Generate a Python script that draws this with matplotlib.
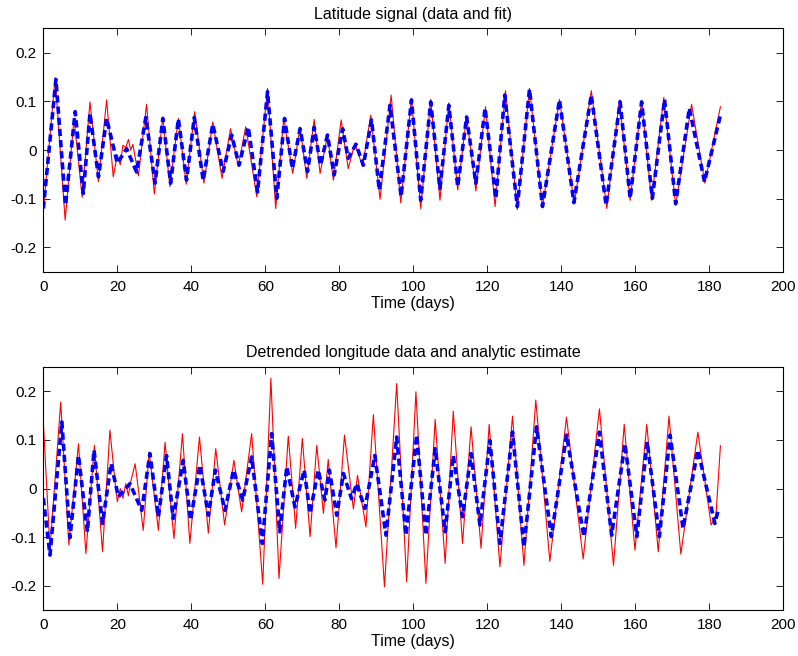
import matplotlib as mpl
mpl.use('Agg')
import matplotlib.pyplot as plt

plt.rcParams['font.family'] = ['Liberation Sans', 'DejaVu Sans']

# latitude: data (red) extrema, days / value
lat_t = [0.0, 3.2, 5.9, 8.3, 10.5, 12.6, 14.9, 17.1, 18.9, 20.0, 20.8, 21.5, 22.3, 23.0, 23.6, 24.2,
         25.7, 27.9, 30.0, 32.3, 34.2, 36.5, 38.6, 40.9, 43.4, 45.8, 48.3, 50.6, 52.7, 54.7, 57.7,
         60.6, 62.8, 65.0, 67.4, 69.4, 71.2, 73.2, 74.8, 76.8, 78.4, 80.5, 82.4, 84.2, 86.3, 88.5,
         91.0, 94.0, 96.6, 99.5, 102.0, 104.7, 107.2, 109.6, 112.0, 114.4, 116.9, 119.5, 122.1,
         124.9, 128.1, 131.4, 134.9, 139.5, 143.5, 148.1, 152.3, 155.7, 158.6, 161.7, 164.4, 167.7,
         170.9, 175.2, 178.8, 183.0]
lat_data = [-0.125, 0.149, -0.144, 0.065, -0.097, 0.099, -0.065, 0.103, -0.055, -0.010, -0.030, 0.010,
            0.005, 0.022, 0.000, 0.012, -0.053, 0.094, -0.090, 0.068, -0.075, 0.065, -0.070, 0.079,
            -0.068, 0.058, -0.058, 0.044, -0.033, 0.048, -0.096, 0.127, -0.120, 0.065, -0.048, 0.047,
            -0.058, 0.063, -0.048, 0.031, -0.062, 0.062, -0.038, 0.014, -0.034, 0.072, -0.101, 0.113,
            -0.108, 0.106, -0.120, 0.104, -0.103, 0.097, -0.082, 0.070, -0.084, 0.089, -0.116, 0.122,
            -0.122, 0.127, -0.116, 0.104, -0.110, 0.122, -0.120, 0.103, -0.103, 0.101, -0.103, 0.108,
            -0.113, 0.094, -0.068, 0.089]

# latitude fit (blue dashed)
lat_fit_t = [0.0, 3.4, 6.0, 8.6, 10.8, 12.6, 14.9, 17.1, 20.0, 22.5, 25.2, 27.7, 30.2, 32.3, 34.4,
             36.5, 38.7, 40.8, 43.2, 45.8, 48.6, 50.9, 52.9, 55.4, 57.9, 60.6, 63.1, 65.2, 67.3,
             69.4, 71.4, 73.2, 74.9, 76.8, 78.6, 80.9, 82.4, 84.5, 86.5, 88.7, 90.8, 93.7, 96.7,
             99.5, 102.0, 104.7, 107.2, 109.6, 112.0, 114.4, 116.9, 119.4, 122.3, 124.7, 128.1,
             131.4, 134.9, 139.5, 143.4, 148.1, 152.1, 155.9, 158.6, 161.7, 164.6, 167.9, 170.9,
             174.6, 178.7, 183.1]
lat_fit = [-0.120, 0.145, -0.113, 0.079, -0.089, 0.075, -0.055, 0.065, -0.027, 0.003, -0.045, 0.067,
           -0.068, 0.065, -0.068, 0.064, -0.062, 0.067, -0.062, 0.053, -0.044, 0.031, -0.031, 0.047,
           -0.086, 0.120, -0.099, 0.065, -0.038, 0.044, -0.044, 0.047, -0.031, 0.031, -0.051, 0.044,
           -0.017, 0.012, -0.031, 0.062, -0.082, 0.092, -0.095, 0.103, -0.103, 0.099, -0.079, 0.092,
           -0.075, 0.068, -0.068, 0.086, -0.099, 0.113, -0.116, 0.125, -0.116, 0.103, -0.108, 0.113,
           -0.113, 0.099, -0.099, 0.099, -0.099, 0.104, -0.110, 0.086, -0.065, 0.075]

# detrended longitude data (red)
lon_t = [0.0, 1.8, 4.7, 6.9, 9.5, 11.5, 13.8, 16.0, 18.0, 19.3, 20.0, 20.8, 21.5, 22.3, 23.0, 23.5,
         24.8, 25.5, 27.0, 28.6, 31.1, 32.9, 35.3, 37.6, 39.6, 42.2, 44.6, 46.6, 49.0, 51.5, 53.6,
         56.3, 59.3, 61.5, 63.7, 66.2, 68.2, 70.0, 72.1, 73.9, 75.7, 77.0, 79.1, 81.4, 83.8, 84.9,
         87.2, 89.2, 92.2, 95.5, 98.2, 100.7, 103.4, 105.9, 108.6, 110.8, 113.3, 115.6, 118.3,
         120.5, 123.4, 126.8, 129.9, 133.1, 136.9, 141.4, 145.9, 150.3, 154.1, 157.0, 159.9, 163.1,
         166.2, 169.1, 172.3, 176.9, 180.5, 181.8, 183.0]
lon_data = [0.137, -0.125, 0.178, -0.116, 0.092, -0.134, 0.089, -0.130, 0.120, 0.020, -0.027, 0.000,
            -0.020, 0.010, -0.015, 0.010, 0.051, 0.010, -0.086, 0.075, -0.086, 0.095, -0.103, 0.113,
            -0.113, 0.106, -0.092, 0.082, -0.075, 0.058, -0.048, 0.113, -0.197, 0.227, -0.185, 0.108,
            -0.082, 0.103, -0.099, 0.089, -0.051, 0.060, -0.122, 0.110, -0.042, 0.027, -0.079, 0.152,
            -0.202, 0.216, -0.192, 0.199, -0.195, 0.142, -0.154, 0.159, -0.113, 0.127, -0.123, 0.132,
            -0.161, 0.149, -0.158, 0.182, -0.150, 0.147, -0.145, 0.164, -0.158, 0.132, -0.127, 0.132,
            -0.130, 0.149, -0.135, 0.116, -0.075, -0.055, 0.088]

# analytic estimate (blue dashed)
lon_est_t = [0.0, 1.8, 5.0, 7.2, 9.5, 11.9, 13.7, 16.0, 18.3, 20.3, 23.4, 26.6, 28.8, 31.1, 33.3,
             35.1, 37.8, 39.8, 42.3, 44.6, 46.5, 49.1, 51.4, 53.9, 56.3, 59.2, 61.7, 63.9, 65.8,
             68.0, 70.5, 72.1, 74.3, 76.1, 77.3, 79.3, 81.1, 83.3, 84.7, 86.9, 89.6, 92.6, 95.5,
             98.0, 100.9, 103.4, 105.9, 108.6, 110.8, 113.3, 115.6, 118.0, 120.7, 123.4, 126.8,
             129.9, 133.3, 137.3, 141.4, 146.1, 150.3, 153.6, 157.2, 160.4, 163.2, 166.5, 169.4,
             172.9, 176.9, 181.5, 182.5]
lon_est = [-0.020, -0.137, 0.137, -0.101, 0.068, -0.089, 0.079, -0.072, 0.051, -0.017, 0.010, -0.045,
           0.072, -0.058, 0.068, -0.062, 0.058, -0.065, 0.048, -0.055, 0.038, -0.045, 0.038, -0.024,
           0.065, -0.113, 0.113, -0.089, 0.045, -0.038, 0.038, -0.051, 0.038, -0.024, 0.038, -0.055,
           0.031, -0.021, 0.010, -0.041, 0.068, -0.096, 0.106, -0.096, 0.110, -0.096, 0.082, -0.089,
           0.068, -0.058, 0.072, -0.075, 0.099, -0.113, 0.116, -0.120, 0.127, -0.099, 0.110, -0.099,
           0.116, -0.096, 0.092, -0.099, 0.096, -0.099, 0.110, -0.082, 0.079, -0.072, -0.041]

titles = ['Latitude signal (data and fit)', 'Detrended longitude data and analytic estimate']
xticks = [0, 20, 40, 60, 80, 100, 120, 140, 160, 180, 200]
yticks = [-0.2, -0.1, 0, 0.1, 0.2]
yticklabels = ['-0.2', '-0.1', '0', '0.1', '0.2']


def panel(ax, t1, y1, t2, y2, title):
    ax.plot(t1, y1, color='red', lw=0.8)
    ax.plot(t2, y2, color='blue', lw=2.6, linestyle=(0, (2.0, 1.1)))
    ax.set_xlim(0, 200)
    ax.set_ylim(-0.25, 0.25)
    ax.set_xticks(xticks)
    ax.set_yticks(yticks)
    ax.set_yticklabels(yticklabels)
    ax.tick_params(direction='in', top=True, right=True, length=5, width=0.6, labelsize=11)
    ax.tick_params(axis='x', pad=6)
    ax.tick_params(axis='y', pad=5)
    ax.set_xlabel('Time (days)', fontsize=11.5, labelpad=1)
    ax.set_title(title, fontsize=11.5, pad=7)
    for s in ax.spines.values():
        s.set_linewidth(0.8)


fig = plt.figure(figsize=(7.98, 6.56), dpi=100)
ax1 = fig.add_axes([0.0543, 0.5857, 0.9273, 0.371])
ax2 = fig.add_axes([0.0543, 0.0701, 0.9273, 0.3704])

panel(ax1, lat_t, lat_data, lat_fit_t, lat_fit, titles[0])
panel(ax2, lon_t, lon_data, lon_est_t, lon_est, titles[1])

fig.savefig('out.png', dpi=100)
